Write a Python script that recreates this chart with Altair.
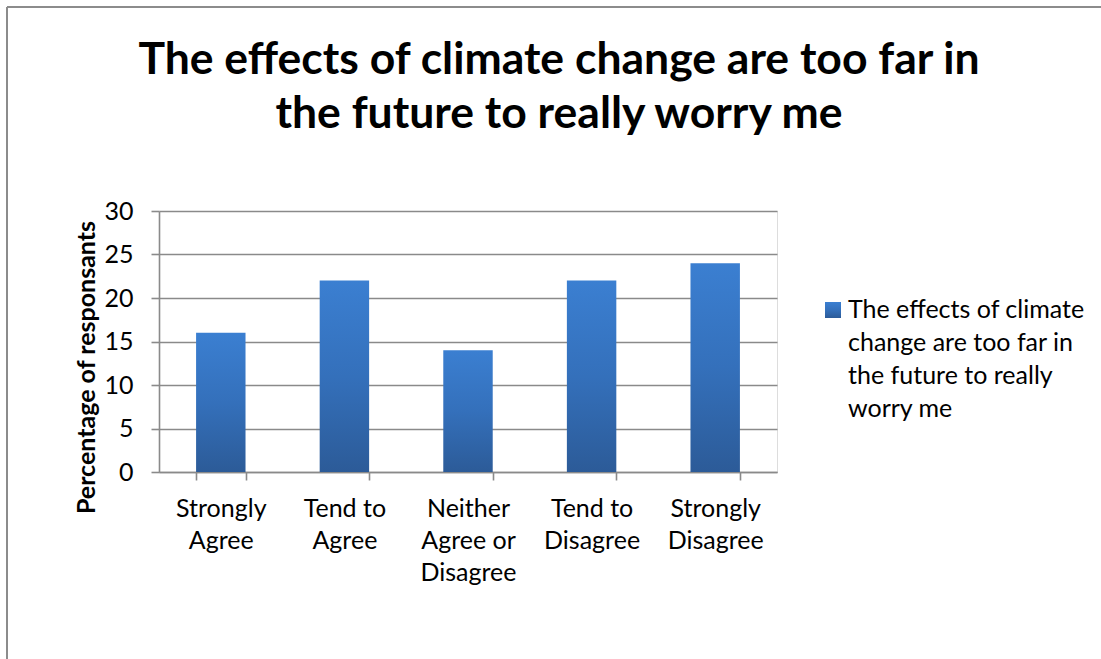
import altair as alt
import pandas as pd

# Survey answers and share of respondents (%)
categories = [
    "Strongly Agree",
    "Tend to Agree",
    "Neither Agree or Disagree",
    "Tend to Disagree",
    "Strongly Disagree",
]
values = [16, 22, 14, 22, 24]

# Line-broken axis labels for each answer
category_lines = [
    ["Strongly", "Agree"],
    ["Tend to", "Agree"],
    ["Neither", "Agree or", "Disagree"],
    ["Tend to", "Disagree"],
    ["Strongly", "Disagree"],
]

series_name = "The effects of climate change are too far in the future to really worry me"
legend_lines = ["The effects of climate", "change are too far in", "the future to really", "worry me"]
title_lines = ["The effects of climate change are too far in", "the future to really worry me"]
y_ticks = [0, 5, 10, 15, 20, 25, 30]

FONT = "Lato"
GRID = "#8a8a8a"

df = pd.DataFrame({"answer": categories, "pct": values, "series": series_name})

bar_fill = alt.LinearGradient(
    gradient="linear",
    x1=0, y1=0, x2=0, y2=1,
    stops=[
        alt.GradientStop(color="#3b7fd1", offset=0),
        alt.GradientStop(color="#3470bb", offset=0.5),
        alt.GradientStop(color="#2c5b98", offset=1),
    ],
)

# labelExpr mapping each answer to its wrapped lines
label_expr = ""
for cat, lines in zip(categories, category_lines):
    arr = "[" + ",".join("'" + s + "'" for s in lines) + "]"
    label_expr += f"datum.label == '{cat}' ? {arr} : "
label_expr += "datum.label"

W, H = 618, 261
LEFT, TOP = 159, 211
TOTAL_W, TOTAL_H = 1101, 659

bars = alt.Chart(df).mark_bar(color=bar_fill).encode(
    x=alt.X(
        "answer:N",
        sort=categories,
        title=None,
        scale=alt.Scale(paddingInner=0.6, paddingOuter=0.3),
        axis=alt.Axis(
            labelAngle=0,
            labelExpr=label_expr,
            labelFont=FONT,
            labelFontSize=25,
            labelColor="black",
            labelLineHeight=32,
            labelBaseline="alphabetic",
            labelPadding=36,
            labelLimit=200,
            tickBand="extent",
            tickSize=8,
            tickColor=GRID,
            tickWidth=1.6,
            domainColor=GRID,
            domainWidth=1.6,
            grid=False,
        ),
    ),
    y=alt.Y(
        "pct:Q",
        title="Percentage of responsants",
        scale=alt.Scale(domain=[0, 30], nice=False),
        axis=alt.Axis(
            values=y_ticks,
            labelFont=FONT,
            labelFontSize=25,
            labelColor="black",
            labelPadding=18,
            tickSize=8,
            tickColor=GRID,
            tickWidth=1.6,
            domainColor=GRID,
            domainWidth=1.6,
            gridColor=GRID,
            gridWidth=1.6,
            titleFont=FONT,
            titleFontSize=25,
            titleFontWeight="bold",
            titleColor="black",
            titleAngle=270,
            titleAlign="center",
            titleBaseline="alphabetic",
            titleX=-65,
            titleY=156,
        ),
    ),
)

# Chart heading, centred over the whole frame
title_df = pd.DataFrame({"lines": [title_lines]})
heading = alt.Chart(title_df).mark_text(
    font=FONT, fontSize=44.5, fontWeight="bold", align="center", baseline="alphabetic",
    lineHeight=54, color="black"
).encode(
    x=alt.value(400), y=alt.value(74 - TOP), text="lines"
)

# Legend: gradient swatch and wrapped series name
legend_df = pd.DataFrame({"series": [series_name], "lines": [legend_lines]})
legend_swatch = alt.Chart(legend_df).mark_square(size=256, fill=bar_fill, opacity=1).encode(
    x=alt.value(674), y=alt.value(99)
)
legend_text = alt.Chart(legend_df).mark_text(
    font=FONT, fontSize=25, align="left", baseline="alphabetic", lineHeight=33, color="black"
).encode(
    x=alt.value(689), y=alt.value(107), text="lines"
)

# Outer chart frame (left and top edges)
frame_df = pd.DataFrame({"k": [0]})
frame_left = alt.Chart(frame_df).mark_rule(color="#8c8c8c", strokeWidth=2).encode(
    x=alt.value(7 - LEFT), y=alt.value(7 - TOP), y2=alt.value(TOTAL_H - TOP)
)
frame_top = alt.Chart(frame_df).mark_rule(color="#8c8c8c", strokeWidth=2).encode(
    x=alt.value(7 - LEFT), x2=alt.value(TOTAL_W - LEFT), y=alt.value(7 - TOP)
)

chart = alt.layer(bars, heading, legend_swatch, legend_text, frame_left, frame_top).properties(
    width=W,
    height=H,
    autosize=alt.AutoSizeParams(type="none"),
    padding={"left": LEFT, "top": TOP, "right": TOTAL_W - LEFT - W, "bottom": TOTAL_H - TOP - H},
).configure_view(stroke=None).configure(background="white")

chart.save("out.html", embed_options={"renderer": "svg", "actions": False})
